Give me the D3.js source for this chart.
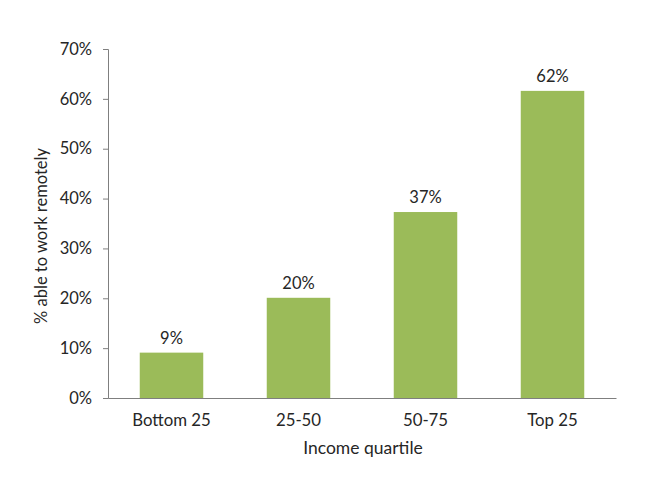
<!DOCTYPE html>
<html>
<head>
<meta charset="utf-8">
<script src="https://cdn.jsdelivr.net/npm/d3@7"></script>
<style>
  body { margin: 0; background: #fff; }
  svg text { font-family: Lato, "Open Sans", sans-serif; fill: #262626; }
</style>
</head>
<body>
<svg width="672" height="504"></svg>
<script>
// data
var quartiles = ["Bottom 25", "25-50", "50-75", "Top 25"];
var remoteShare = [0.091, 0.201, 0.373, 0.616];
var yTicks = [0, 0.1, 0.2, 0.3, 0.4, 0.5, 0.6, 0.7];

var svg = d3.select("svg");
var margin = {top: 49, right: 56, bottom: 106, left: 108},
    width = +svg.attr("width") - margin.left - margin.right,
    height = +svg.attr("height") - margin.top - margin.bottom;

var g = svg.append("g")
    .attr("transform", "translate(" + margin.left + "," + margin.top + ")");

var x = d3.scaleBand()
    .domain(quartiles)
    .range([0, width])
    .paddingInner(0.5)
    .paddingOuter(0.25);

var y = d3.scaleLinear()
    .domain([0, 0.7])
    .range([height, 0]);

var pct = d3.format(".0%");

// y axis
var yAxis = g.append("g")
    .call(d3.axisLeft(y).tickValues(yTicks).tickFormat(pct).tickSize(5).tickPadding(11));
yAxis.selectAll("path, line").attr("stroke", "#7f7f7f");
yAxis.selectAll("text").style("font-size", "16.5px");

// x axis
var xAxis = g.append("g")
    .attr("transform", "translate(0," + height + ")")
    .call(d3.axisBottom(x).tickSize(0).tickPadding(16));
xAxis.select("path").attr("stroke", "#7f7f7f");
xAxis.selectAll("text").style("font-size", "16.8px");

// bars
g.selectAll(".bar")
    .data(remoteShare)
  .enter().append("rect")
    .attr("class", "bar")
    .attr("x", function(d, i) { return x(quartiles[i]); })
    .attr("y", function(d) { return y(d); })
    .attr("width", x.bandwidth())
    .attr("height", function(d) { return height - y(d); })
    .attr("fill", "#9bbb59");

// value labels
g.selectAll(".val")
    .data(remoteShare)
  .enter().append("text")
    .attr("class", "val")
    .attr("x", function(d, i) { return x(quartiles[i]) + x.bandwidth() / 2; })
    .attr("y", function(d) { return y(d) - 9; })
    .attr("text-anchor", "middle")
    .style("font-size", "16.5px")
    .text(function(d) { return pct(d); });

// axis titles
svg.append("text")
    .attr("x", 363)
    .attr("y", 454)
    .attr("text-anchor", "middle")
    .style("font-size", "17.5px")
    .text("Income quartile");

svg.append("text")
    .attr("transform", "translate(47,236) rotate(-90)")
    .attr("text-anchor", "middle")
    .style("font-size", "16.5px")
    .text("% able to work remotely");
</script>
</body>
</html>
